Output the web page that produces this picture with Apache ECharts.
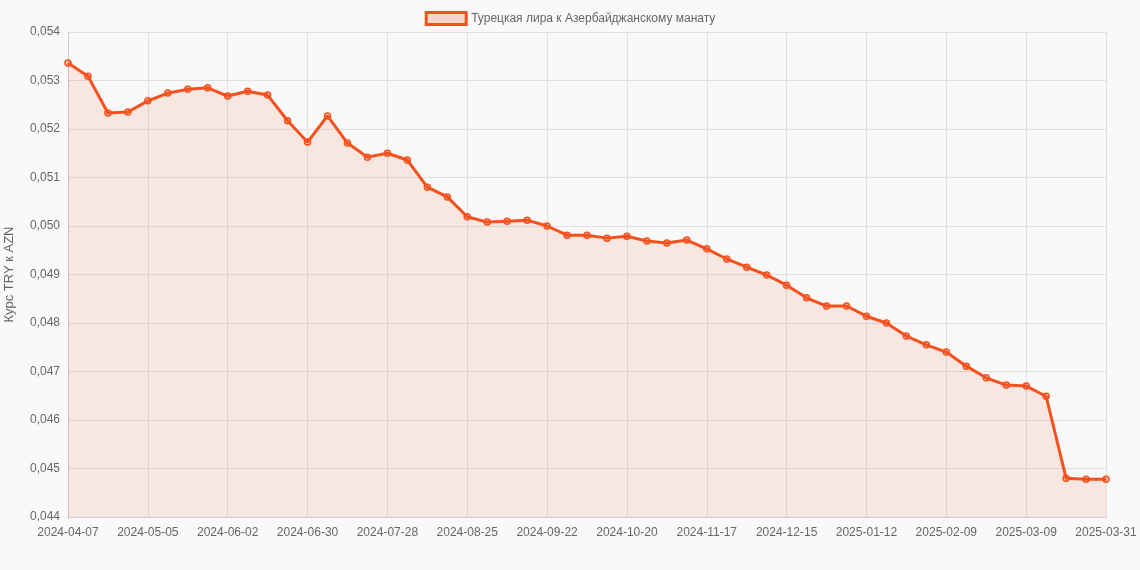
<!DOCTYPE html>
<html><head><meta charset="utf-8">
<script src="https://cdn.jsdelivr.net/npm/echarts@6/dist/echarts.min.js"></script>
<style>html,body{margin:0;padding:0;background:#f9f9f9}#c{width:1140px;height:570px}</style>
</head><body><div id="c"></div>
<script>
const seriesName = 'Турецкая лира к Азербайджанскому манату';
const axisName = 'Курс TRY к AZN';
const startDate = '2024-04-07';
const lastLabel = '2025-03-31';
const values = [0.05336,0.05309,0.05233,0.05235,0.05258,0.05274,0.05282,0.05285,0.05268,0.05278,0.0527,0.05217,0.05173,0.05227,0.05171,0.05142,0.0515,0.05136,0.0508,0.0506,0.05019,0.05008,0.0501,0.05012,0.05,0.04981,0.04981,0.04975,0.04979,0.04969,0.04965,0.04971,0.04953,0.04932,0.04915,0.04899,0.04878,0.04852,0.04835,0.04835,0.04814,0.048,0.04773,0.04755,0.0474,0.04711,0.04687,0.04672,0.0467,0.04649,0.0448,0.04478,0.04478];
const categories = values.map((v,i)=>{
  if(i===values.length-1) return lastLabel;
  const d=new Date(startDate+'T00:00:00Z'); d.setUTCDate(d.getUTCDate()+7*i);
  return d.toISOString().slice(0,10);
});
const chart = echarts.init(document.getElementById('c'));
chart.setOption({
  backgroundColor:'#f9f9f9',
  animation:false,
  legend:{top:6,left:'center',itemWidth:40,itemHeight:12,
    textStyle:{color:'#666',fontSize:12,fontFamily:'Arial, Liberation Sans'},
    data:[{name:seriesName,icon:'rect',itemStyle:{color:'rgba(244,81,30,0.2)',borderColor:'#f4511e',borderWidth:3}}]},
  grid:{left:68,right:34,top:32,bottom:53,containLabel:false,outerBoundsMode:'none'},
  xAxis:{type:'category',boundaryGap:false,data:categories,
    axisLine:{lineStyle:{color:'#ccc'}},axisTick:{show:false},
    axisLabel:{color:'#666',fontSize:12,interval:3,margin:10,fontFamily:'Arial, Liberation Sans'},
    splitLine:{show:true,interval:3,lineStyle:{color:'#e0e0e0'}}},
  yAxis:{type:'value',min:0.044,max:0.054,interval:0.001,
    name:axisName,nameLocation:'middle',nameGap:52,nameTextStyle:{color:'#666',fontSize:13,fontFamily:'Arial, Liberation Sans'},
    axisLine:{show:true,lineStyle:{color:'#ccc'}},axisTick:{show:false},
    axisLabel:{color:'#666',fontSize:12,fontFamily:'Arial, Liberation Sans',formatter:v=>v.toFixed(3).replace('.',',')},
    splitLine:{lineStyle:{color:'#e0e0e0'}}},
  series:[{name:seriesName,type:'line',data:values,symbol:'circle',symbolSize:6,
    lineStyle:{color:'#f4511e',width:3},
    itemStyle:{color:'rgba(244,81,30,0.25)',borderColor:'#f4511e',borderWidth:1.5},
    areaStyle:{color:'rgba(244,81,30,0.15)'}}]
});
</script></body></html>
